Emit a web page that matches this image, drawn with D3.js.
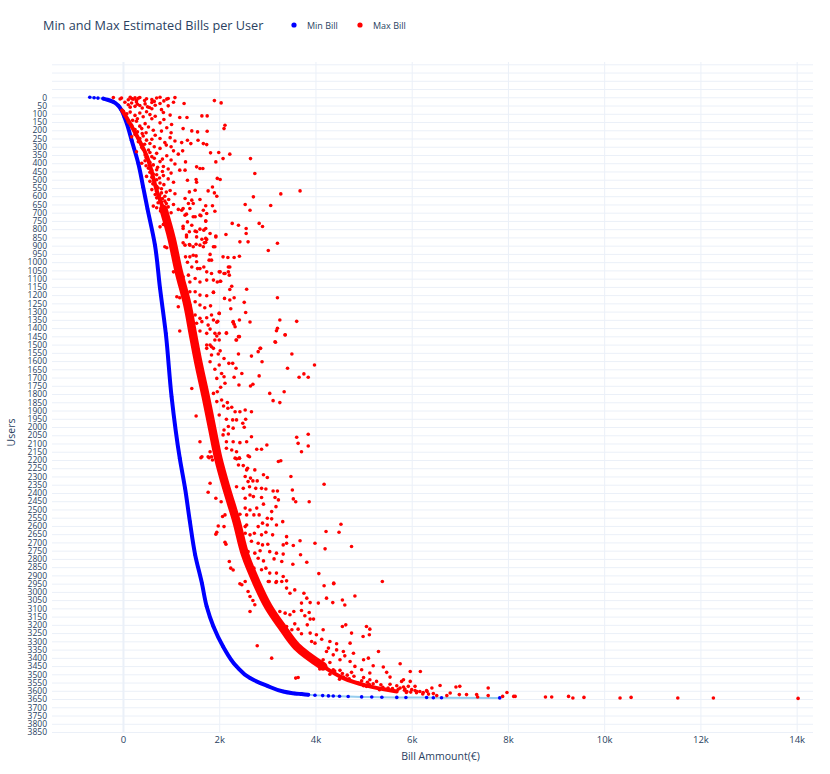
<!DOCTYPE html>
<html>
<head>
<meta charset="utf-8">
<script src="https://cdn.jsdelivr.net/npm/d3@7"></script>
<style>
  body { margin: 0; background: #fff; }
  svg text { font-family: "Open Sans", sans-serif; fill: #2a3f5f; }
</style>
</head>
<body>
<div id="chart"></div>
<script>
// ---- data ----
const yTicks = d3.range(0, 3851, 50);
const xTicks = [0, 2000, 4000, 6000, 8000, 10000, 12000, 14000];

// min bill per user rank: [user, bill]
const minBill = [
  [0,-690],[3,-600],[5,-520],[8,-410],[15,-320],[28,-200],[50,-100],[79,-30],[120,30],[160,80],
  [261,180],[403,320],[545,420],[677,510],[897,665],[1159,770],[1432,890],[1816,1010],
  [2189,1180],[2371,1290],[2573,1390],[2775,1500],[2947,1640],[3089,1740],[3210,1880],
  [3331,2080],[3452,2360],[3523,2640],[3569,2990],[3604,3330],[3612,3470],[3616,3570],
  [3620,3710],[3624,3850],[3627,3990],[3629,4150],[3631,4270],[3632,4370],[3633,4500],
  [3635,4680],[3637,4960],[3638,5170],[3639,5380],[3640,5690],[3641,5880],[3641,6310],
  [3642,6450],[3642,6620],[3643,7830]
];

// centre of the dense max bill band: [user, bill]
const maxCoreTop = [[79,-20],[160,150],[361,500],[564,700],[677,840]];
const maxCore = [
  [677,840],[856,1010],[1058,1160],[1260,1340],
  [1432,1450],[1614,1570],[1816,1720],[2018,1860],[2189,1980],[2371,2150],[2573,2360],
  [2775,2540],[2947,2780],[3089,3020],[3210,3300],[3331,3610],[3452,4160]
];
const maxCoreTail = [[3331,3610],[3452,4160],[3523,4580],[3569,5060],[3604,5690]];

// individual max bill points: [user, bill]
const maxBill = [
  [2,-200],[10,-60],[5,-30],[15,110],[0,150],[8,180],[12,210],[3,250],[18,280],[6,320],[1,350],[9,490],[14,600],[4,700],[0,770],[11,910],[7,940],[2,1080],
  [30,40],[45,110],[35,180],[55,250],[28,280],[50,350],[40,460],[58,510],[32,600],[48,670],[38,770],[52,940],[30,1050],
  [85,10],[100,80],[90,150],[110,250],[95,350],[118,420],[88,490],[105,560],[115,670],[92,840],[108,980],
  [150,110],[170,180],[145,280],[190,390],[160,460],[180,530],[200,630],[155,770],[185,910],[165,1010],
  [240,180],[225,250],[270,320],[235,420],[260,490],[280,560],[230,670],[250,770],[275,870],[245,980],[265,1080],
  [330,280],[305,390],[350,460],[320,530],[360,600],[340,700],[310,770],[355,910],[325,1050],[345,1150],
  [400,390],[385,460],[430,530],[410,630],[440,700],[390,770],[420,840],[435,940],[405,1080],
  [480,490],[510,560],[465,630],[500,700],[520,770],[475,840],[495,940],[515,1050],
  [560,600],[590,670],[550,730],[580,800],[600,870],[565,980],[585,1080],
  [660,630],[640,730],[675,800],[630,870],[665,940],[650,1050],[680,1150],
  [130,300],[140,200],[175,350],[195,250],[210,300],[215,480],[220,400],[250,350],[255,600],[285,450],
  [290,380],[300,650],[315,420],[335,560],[365,480],[370,650],[375,820],[395,560],[415,480],[425,720],
  [445,600],[450,820],[455,560],[470,700],[485,600],[490,760],[505,650],[525,620],[530,850],[540,700],
  [555,800],[570,700],[575,900],[595,760],[610,700],[615,820],[620,950],[635,800],[645,900],[670,700],
  [690,780],[695,900],[700,1000],[60,150],[65,400],[70,600],[75,800],[20,450],[25,650],[22,850],
  [42,300],[62,550],[130,600],[135,850],[205,800],[215,1000],[290,900],[300,1000],[380,1000],[460,1000],
  [20,1900],[34,2040],[38,1270],[113,1640],[113,1750],[123,1180],[123,1330],[170,2120],[190,2100],[190,1250],
  [204,1430],[210,1550],[206,1750],[261,1340],[261,1560],[281,1670],[287,1740],[275,1220],[281,1410],[325,1240],
  [337,1820],[335,1990],[345,2220],[392,1930],[372,2080],[372,2650],[392,1300],[422,1530],[432,1600],[432,1660],
  [442,1180],[442,1290],[462,2740],[503,1340],[499,1520],[515,1530],[492,1960],[499,2020],[544,1860],[568,1770],
  [568,3680],[586,3280],[580,1900],[600,1950],[604,2710],[564,1500],[574,1380],[614,1290],[624,1430],[620,1600],
  [644,1360],[644,1460],[650,2540],[656,3070],[658,1720],[658,1860],[685,1670],[685,2640],[685,1220],[709,1320],
  [725,1500],[719,1620],[751,1720],[765,2270],[776,2400],[765,2830],[784,2900],[796,2560],[826,2560],[782,1250],
  [776,1430],[836,1320],[816,1530],[806,1680],[842,1930],[832,2140],[862,1740],[883,1690],[907,1880],[877,2430],
  [877,2600],[885,3210],[929,3020],[883,1250],[897,1390],[891,1520],[968,2080],[972,2180],[972,2310],[964,2420],
  [988,1840],[958,1460],[998,1530],[1059,2020],[1069,2100],[1059,2190],[1029,2220],[1120,1960],[1116,2030],[1146,2260],
  [1166,2220],[1164,2570],[1182,1880],[1220,2110],[1230,2220],[1216,2310],[1244,2520],[1216,3210],[1283,2240],[1305,2550],
  [1311,2000],[1351,1880],[1359,1970],[1365,2290],[1392,2330],[1351,2420],[1363,2640],[1351,3260],[1359,3610],[1401,3210],
  [1416,3190],[1440,3370],[1432,2150],[1448,1950],[1472,2000],[1452,2400],[1472,2360],[1486,3170],[1523,2850],[1513,1840],[1503,1740],
  [786,770],[771,840],[907,870],[913,910],[1059,1050],[1216,1180],[1210,1120],[1271,1150],[1418,1180],
  [675,1250],[675,1390],[715,1290],[756,1340],[725,1460],[715,1600],[705,1740],[751,1720],[691,1910],
  [796,1250],[816,1380],[812,1500],[800,1600],[796,1720],[826,1810],
  [847,1320],[847,1530],[861,1640],[856,1720],[847,1930],
  [897,1290],[893,1380],[907,1460],[897,1600],[907,1670],[880,1720],[907,1910],
  [968,1300],[968,1390],[962,1520],[953,1810],[988,1790],
  [1001,1340],[1029,1430],[1039,1550],[1039,1600],[1029,1680],[1059,1740],[1069,1840],[1059,2000],[1069,2120],[1029,2190],[1079,2210],
  [1089,1250],[1079,1360],[1120,1390],[1099,1500],[1120,1600],[1109,1740],[1109,1880],[1116,2020],
  [1159,1290],[1180,1390],[1180,1500],[1200,1600],[1204,1740],[1184,1880],
  [1240,1310],[1260,1390],[1240,1500],[1260,1600],[1277,1700],[1265,1820],
  [1311,1390],[1321,1500],[1341,1600],[1337,1740],[1321,1840],[1311,2000],
  [1371,1530],[1361,1640],[1382,1770],[1365,1950],[1361,2290],[1377,2310],
  [1412,1460],[1418,1600],[1406,1810],[1432,1910],[1432,2000],
  [1766,1430],[1933,1520],[2089,1600],[2180,1770],[2180,1840],
  [1432,1740],[1428,2150],[1472,2350],[1452,2420],[1472,1910],[1503,1810],[1523,1740],[1523,1880],[1538,2020],[1563,1840],
  [1557,1980],[1584,2100],[1614,2200],[1614,2280],
  [1557,2400],[1570,2670],[1543,2810],[1523,2860],[1604,2890],[1483,3160],[1442,3370],
  [1557,3510],[1644,3420],[1698,3660],[1678,3760],[1698,3850],[1624,3980],
  [1644,2350],[1675,2470],[1698,2310],[1690,2830],[1745,2410],[1751,2650],[1741,2700],
  [1796,3050],[1786,3350],[1840,3120],[1852,3260],
  [1604,1810],[1650,1910],[1624,2000],[1675,2050],[1705,1950],[1695,2100],[1735,2120],[1759,2030],[1786,1960],[1796,1880],
  [1846,1950],[1836,2050],[1852,2170],[1880,2260],[1907,2330],[1907,2430],[1897,2540],[1907,2670],[1886,2180],[1873,2090],
  [1927,2000],[1953,2150],[1957,2280],[1957,2360],[1977,2490],[1953,2550],[2001,2520],[2007,2290],[1997,2190],[2018,2100],
  [2048,2080],[2042,2190],[2089,2290],[2089,2150],[2095,2430],[2089,2570],[2059,2670],[2109,2990],[2135,2780],[2135,2880],
  [2062,3610],[2044,3850],[2099,3640],[2150,3710],[2115,3850],
  [2129,2150],[2139,2260],[2150,2360],[2189,2330],[2189,2420],[2175,2600],[2186,1620],[2150,1810],
  [2180,1640],[2186,1790],[2200,1860],
  [2341,1810],[2396,1770],[2432,1930],[2453,2040],[2543,2070],[2533,2120],[2604,2100],[2600,1980],[2638,1950],[2650,1930],
  [2699,2120],[2711,2140],[2816,2210],[2856,2240],[2867,2290],
  [2193,2360],[2189,2420],[2180,2630],[2230,2400],[2234,2500],[2260,2570],[2250,2590],[2260,2740],[2300,2540],[2310,2650],
  [2331,2600],[2327,2700],[2327,2790],[2290,2920],[2306,3000],[2209,3230],[2205,3280],[2300,3490],[2347,4180],
  [2362,2360],[2372,2500],[2362,2630],[2372,2760],[2372,2880],[2376,2970],[2388,3120],[2388,3210],[2382,3520],[2412,2640],
  [2422,2710],[2432,2540],[2428,2880],[2428,3160],[2442,3230],[2436,3540],[2453,3590],[2453,3870],
  [2492,2540],[2503,2640],[2492,2780],[2468,2920],[2513,3090],[2483,3180],[2529,2430],[2533,2570],[2533,2720],[2533,2830],
  [2553,3000],[2557,3090],[2574,3320],[2594,3190],[2594,3000],[2583,2900],[2604,2810],[2594,2570],[2604,2540],
  [2590,4530],[2634,4220],[2638,4490],
  [2644,2540],[2654,2640],[2644,2730],[2654,2880],[2638,2970],[2665,3400],[2654,3110],
  [2693,2670],[2705,2810],[2715,2900],[2711,3010],[2715,3330],[2705,3400],[2719,3540],[2690,3680],[2705,3990],[2739,4200],[2725,4750],
  [2756,2600],[2765,2740],[2751,2850],[2756,3050],[2765,3190],[2771,3330],[2796,2810],[2812,2920],[2800,3140],[2816,3300],
  [2832,3530],[2775,3690],[2820,3820],[2889,4070],[2856,2720],[2866,2880],[2856,2970],[2886,3050],[2886,3190],[2907,3330],
  [2947,2810],[2937,3020],[2937,3190],[2933,3400],[2947,4380],[2937,5390],
  [2951,2430],[2957,2470],[2937,2540],[2998,2600],[3028,2640],[3052,2700],[3078,2740],[3119,2640],[3327,2790],[3402,3090],[3523,3590],[3519,3640],
  [2937,3040],[2943,3180],[2937,3300],[2977,3400],[3008,3470],[2988,3570],[3008,3760],[3038,3820],[3068,3710],[3065,3890],
  [3068,4060],[2963,4180],[2951,4380],[3038,4230],[3065,4360],[3049,4560],[3080,4610],[3025,4820],
  [3119,3260],[3129,3370],[3139,3470],[3119,3550],[3113,3710],[3125,3870],[3145,3780],[3165,3890],[3165,3960],[3200,3830],
  [3194,3570],[3210,3400],[3230,3510],[3226,3640],[3254,3710],[3250,3890],[3260,4020],[3230,4160],[3210,4560],[3200,4630],
  [3250,4750],[3271,4990],[3260,5120],[3210,5060],[3226,5130],
  [3301,3920],[3311,3990],[3287,4130],[3301,4300],[3315,4440],[3311,4720],[3341,4270],[3362,4230],[3352,4440],[3362,4580],
  [3382,4370],[3388,4610],[3372,4790],[3412,5000],[3402,5100],[3362,5310],[3412,4160],[3428,4300],[3412,4510],[3422,4720],
  [3468,4090],[3462,4230],[3472,4370],[3476,4510],[3516,4580],[3488,4750],[3452,4820],[3472,4960],[3448,5200],[3492,5130],
  [3456,5410],[3488,5480],[3436,5760],[3517,5550],[3533,5830],[3543,5970],[3483,6180],[3577,5830],[3573,6070],[3604,6320],
  [3604,6110],[3604,5900],[3620,6350],[3533,5130],[3543,5270],[3569,5690],[3583,5510],[3563,5360],[3569,5000],[3553,4890],
  [3573,5060],[3593,5330],
  [3480,4400],[3495,4560],[3505,4660],[3512,4800],[3527,4700],[3540,4960],[3548,5080],[3557,5200],[3562,5120],[3579,5400],
  [3586,5600],[3591,5720],[3597,5850],[3608,5980],[3612,6100],[3619,6230],[3500,4300],[3530,4500],[3520,5000],[3560,5550],
  [3543,5790],[3583,5760],[3589,5860],[3573,5930],[3483,5970],[3610,5890],[3593,6000],[3598,6070],[3604,6170],[3610,6240],
  [3598,6310],[3583,6420],[3617,6450],[3629,6520],[3568,6590],[3629,6730],[3613,6800],[3577,6920],[3573,7000],[3623,6990],
  [3623,7140],[3623,7350],[3638,7370],[3583,7590],[3629,7590],[3634,7890],[3610,7980],[3634,8120],[3634,8150],[3638,8780],
  [3638,8910],[3634,9260],[3644,9350],[3640,9580],[3644,10330],[3640,10560],[3644,11530],[3644,12270],[3646,14030]
];

// ---- layout ----
const W = 830, H = 774;
const plot = { left: 52, right: 813, top: 62, bottom: 733 };
const blue = '#0000ff', red = '#ff0000', grid = '#ebf0f8';

const svg = d3.select('#chart').append('svg')
  .attr('width', W).attr('height', H);

const x = d3.scaleLinear().domain([-1475, 14340]).range([plot.left, plot.right]);
const y = d3.scaleLinear().domain([-214, 3856]).range([plot.top, plot.bottom]);

// grid lines
svg.append('g')
  .attr('transform', `translate(${plot.left},0)`)
  .call(d3.axisLeft(y).tickValues(d3.range(-200, 3851, 50)).tickSize(-(plot.right - plot.left)).tickFormat(''))
  .call(g => g.select('.domain').remove())
  .call(g => g.selectAll('line').attr('stroke', grid).attr('stroke-width', 1));

svg.append('g')
  .attr('transform', `translate(0,${plot.bottom})`)
  .call(d3.axisBottom(x).tickValues(xTicks).tickSize(-(plot.bottom - plot.top)).tickFormat(''))
  .call(g => g.select('.domain').remove())
  .call(g => g.selectAll('line').attr('stroke', grid).attr('stroke-width', d => d === 0 ? 2 : 1));

// tick labels
svg.append('g')
  .attr('transform', `translate(${plot.left - 5},0)`)
  .call(d3.axisLeft(y).tickValues(yTicks).tickSize(0).tickPadding(0).tickFormat(d3.format('d')))
  .call(g => g.select('.domain').remove())
  .call(g => g.selectAll('text').style('font-size', '8.5px').attr('fill', '#2a3f5f'));

svg.append('g')
  .attr('transform', `translate(0,${plot.bottom + 3})`)
  .call(d3.axisBottom(x).tickValues(xTicks).tickSize(0).tickPadding(0)
    .tickFormat(d => d === 0 ? '0' : d / 1000 + 'k'))
  .call(g => g.select('.domain').remove())
  .call(g => g.selectAll('text').style('font-size', '9.5px').attr('fill', '#2a3f5f'));

// min bill trace
const line = d3.line().x(d => x(d[1])).y(d => y(d[0]));
svg.append('path').datum(minBill)
  .attr('d', line).attr('fill', 'none')
  .attr('stroke', '#95cdef').attr('stroke-width', 2);
svg.append('path').datum(minBill.filter(d => d[0] >= 8 && d[0] <= 3624))
  .attr('d', line.curve(d3.curveMonotoneY)).attr('fill', 'none')
  .attr('stroke', blue).attr('stroke-width', 4).attr('stroke-linecap', 'round');
svg.append('g').selectAll('circle').data(minBill).join('circle')
  .attr('cx', d => x(d[1])).attr('cy', d => y(d[0])).attr('r', 1.8).attr('fill', blue);

// max bill trace: dense band, then single points
const bandLine = d3.line().x(d => x(d[1])).y(d => y(d[0])).curve(d3.curveCatmullRom);
svg.append('path').datum(maxCoreTop)
  .attr('d', bandLine).attr('fill', 'none').attr('stroke', red)
  .attr('stroke-width', 4).attr('stroke-linecap', 'round');
svg.append('path').datum(maxCoreTail)
  .attr('d', bandLine).attr('fill', 'none').attr('stroke', red)
  .attr('stroke-width', 4).attr('stroke-linecap', 'round');
svg.append('path').datum(maxCore)
  .attr('d', bandLine).attr('fill', 'none').attr('stroke', red)
  .attr('stroke-width', 8.5).attr('stroke-linecap', 'round');
svg.append('g').selectAll('circle').data(maxBill).join('circle')
  .attr('cx', d => x(d[1])).attr('cy', d => y(d[0])).attr('r', 1.8).attr('fill', red);

// axis titles
svg.append('text').attr('x', (plot.left + plot.right) / 2 + 8).attr('y', 760)
  .attr('text-anchor', 'middle').style('font-size', '10.5px').text('Bill Ammount(€)');
svg.append('text').attr('transform', `translate(15,${(plot.top + plot.bottom) / 2 + 35}) rotate(-90)`)
  .attr('text-anchor', 'middle').style('font-size', '10.5px').text('Users');

// title
svg.append('text').attr('x', 43).attr('y', 30)
  .style('font-size', '12.7px').text('Min and Max Estimated Bills per User');

// legend
const legend = svg.append('g');
[['Min Bill', blue, 294], ['Max Bill', red, 360]].forEach(([name, c, lx]) => {
  legend.append('circle').attr('cx', lx).attr('cy', 25).attr('r', 2.6).attr('fill', c);
  legend.append('text').attr('x', lx + 13).attr('y', 28.5).style('font-size', '9px').text(name);
});
</script>
</body>
</html>
